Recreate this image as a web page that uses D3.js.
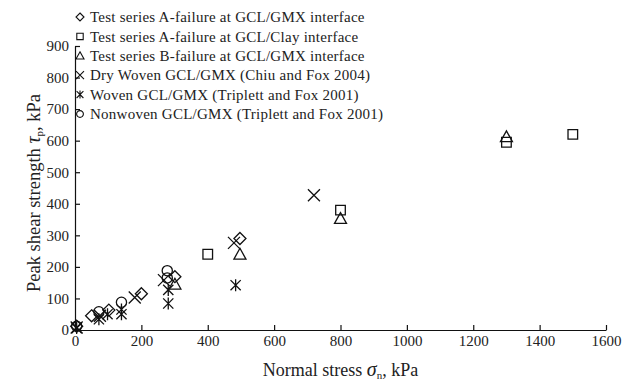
<!DOCTYPE html>
<html>
<head>
<meta charset="utf-8">
<script src="https://cdn.jsdelivr.net/npm/d3@7"></script>
<style>
  body { margin: 0; background: #fff; }
  svg { font-family: "Liberation Serif", "Times New Roman", serif; }
</style>
</head>
<body>
<svg id="chart" width="624" height="383"></svg>
<script>
// Series: [normal stress, peak shear strength] in kPa
const seriesNames = [
  "Test series A-failure at GCL/GMX interface",
  "Test series A-failure at GCL/Clay interface",
  "Test series B-failure at GCL/GMX interface",
  "Dry Woven GCL/GMX (Chiu and Fox 2004)",
  "Woven GCL/GMX (Triplett and Fox 2001)",
  "Nonwoven GCL/GMX (Triplett and Fox 2001)"
];
const seriesSymbols = ["diamond", "square", "triangle", "cross", "asterisk", "circle"];

const testA_GMX = [[5, 12], [50, 45], [102, 63], [200, 115], [301, 169], [497, 290]];
const testA_Clay = [[400, 240], [800, 380], [1300, 595], [1500, 620]];
const testB_GMX = [[301, 145], [497, 240], [800, 353], [1300, 612]];
const dryWoven = [[5, 8], [75, 45], [180, 103], [268, 158], [479, 276], [720, 427]];
const woven = [[5, 6], [72, 34], [98, 50], [140, 50], [140, 65], [281, 84], [281, 127], [484, 142]];
const nonwoven = [[5, 12], [72, 58], [140, 88], [278, 165], [278, 188]];

const allSeries = [testA_GMX, testA_Clay, testB_GMX, dryWoven, woven, nonwoven];

const xTicks = [0, 200, 400, 600, 800, 1000, 1200, 1400, 1600];
const yTicks = [0, 100, 200, 300, 400, 500, 600, 700, 800, 900];

const svg = d3.select("#chart");
const margin = { left: 75, right: 18, top: 46, bottom: 53 };
const W = 624, H = 383;

const x = d3.scaleLinear().domain([0, 1600]).range([margin.left, W - margin.right]);
const y = d3.scaleLinear().domain([0, 900]).range([H - margin.bottom, margin.top]);

// axes, ticks pointing inward
const xAxis = svg.append("g")
  .attr("transform", `translate(0,${y(0)})`)
  .call(d3.axisBottom(x).tickValues(xTicks).tickFormat(d3.format("d"))
    .tickSize(-5).tickPadding(5).tickSizeOuter(0));
const yAxis = svg.append("g")
  .attr("transform", `translate(${x(0)},0)`)
  .call(d3.axisLeft(y).tickValues(yTicks).tickFormat(d3.format("d"))
    .tickSize(-5).tickPadding(6).tickSizeOuter(0));

[xAxis, yAxis].forEach(g => {
  g.select(".domain").attr("stroke", "#111").attr("stroke-width", 1.2);
  g.selectAll(".tick line").attr("stroke", "#111").attr("stroke-width", 1.2);
  g.selectAll(".tick text").attr("font-size", 15).attr("fill", "#222")
    .attr("font-family", "Liberation Serif, serif");
});

// marker paths
function symbolPath(type, s) {
  switch (type) {
    case "diamond": return `M0,${-s}L${s},0L0,${s}L${-s},0Z`;
    case "square": return `M${-s * 0.8},${-s * 0.8}H${s * 0.8}V${s * 0.8}H${-s * 0.8}Z`;
    case "triangle": return `M0,${-s}L${s},${s * 0.8}H${-s}Z`;
    case "cross": return `M${-s},${-s}L${s},${s}M${s},${-s}L${-s},${s}`;
    case "asterisk": return `M${-s * 0.85},${-s * 0.85}L${s * 0.85},${s * 0.85}M${s * 0.85},${-s * 0.85}L${-s * 0.85},${s * 0.85}M0,${-s}V${s}`;
    case "circle": return d3.arc()({ innerRadius: 0, outerRadius: s * 0.85, startAngle: 0, endAngle: 2 * Math.PI });
  }
}

const plot = svg.append("g");
allSeries.forEach((data, i) => {
  plot.selectAll(null)
    .data(data)
    .join("path")
    .attr("transform", d => `translate(${x(d[0])},${y(d[1])})`)
    .attr("d", symbolPath(seriesSymbols[i], 6))
    .attr("fill", "none")
    .attr("stroke", "#111")
    .attr("stroke-width", 1.3);
});

// legend
const legend = svg.append("g").attr("transform", "translate(80,17)");
seriesNames.forEach((name, i) => {
  const row = legend.append("g").attr("transform", `translate(0,${i * 19.4})`);
  row.append("path")
    .attr("d", symbolPath(seriesSymbols[i], 4))
    .attr("fill", "none")
    .attr("stroke", "#111")
    .attr("stroke-width", 1.1);
  row.append("text")
    .attr("x", 10)
    .attr("dy", "0.35em")
    .attr("font-size", 15)
    .attr("letter-spacing", 0.25)
    .attr("fill", "#222")
    .text(name);
});

// axis titles
const xTitle = svg.append("text")
  .attr("x", (x(0) + x(1600)) / 2)
  .attr("y", 376)
  .attr("text-anchor", "middle")
  .attr("font-size", 18)
  .attr("fill", "#222");
xTitle.append("tspan").text("Normal stress ");
xTitle.append("tspan").attr("font-style", "italic").attr("font-size", 20).text("σ");
xTitle.append("tspan").attr("font-size", 11).attr("dy", 3).text("n");
xTitle.append("tspan").attr("dy", -3).text(", kPa");

const yTitle = svg.append("text")
  .attr("transform", `translate(40,${(y(0) + y(900)) / 2 + 5}) rotate(-90)`)
  .attr("text-anchor", "middle")
  .attr("font-size", 18.5)
  .attr("fill", "#222");
yTitle.append("tspan").text("Peak shear strength  ");
yTitle.append("tspan").attr("font-style", "italic").attr("font-size", 20).text("τ");
yTitle.append("tspan").attr("font-size", 11).attr("dy", 3).text("p");
yTitle.append("tspan").attr("dy", -3).text(", kPa");
</script>
</body>
</html>
